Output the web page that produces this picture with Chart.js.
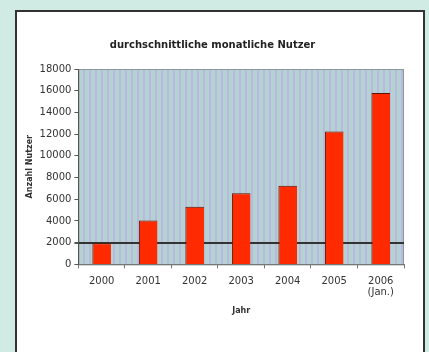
<!DOCTYPE html>
<html>
<head>
<meta charset="utf-8">
<script src="https://cdn.jsdelivr.net/npm/chart.js@4"></script>
<style>
  body { margin: 0; background: #cfebe4; width: 429px; height: 352px; overflow: hidden; }
  #panel { position: absolute; left: 15px; top: 10px; width: 406px; height: 360px; background: #fff; border: 2px solid #333; }
  #chart { position: absolute; left: 0; top: 0; }
</style>
</head>
<body>
<div id="panel"><canvas id="chart" width="406" height="308"></canvas></div>
<script>
const years = ["2000", "2001", "2002", "2003", "2004", "2005", ["2006", "(Jan.)"]];
const users = [1950, 4050, 5300, 6550, 7250, 12250, 15800];
const yTicks = [0, 2000, 4000, 6000, 8000, 10000, 12000, 14000, 16000, 18000];

// striped grey-blue plot background like the old Excel chart
const plotBackground = {
  id: "plotBackground",
  beforeDraw(chart) {
    const { ctx, chartArea: a } = chart;
    const p = document.createElement("canvas");
    p.width = 6; p.height = 1;
    const pc = p.getContext("2d");
    pc.fillStyle = "#b4d2d2"; pc.fillRect(0, 0, 6, 1);
    pc.fillStyle = "#bab8df"; pc.fillRect(0, 0, 2, 1);
    ctx.save();
    ctx.fillStyle = ctx.createPattern(p, "repeat");
    ctx.fillRect(a.left, a.top, a.right - a.left, a.bottom - a.top);
    ctx.strokeStyle = "#8a9a9a";
    ctx.lineWidth = 1;
    ctx.strokeRect(a.left + 0.5, a.top + 0.5, a.right - a.left - 1, a.bottom - a.top);
    ctx.restore();
  }
};

const font = "DejaVu Sans";

new Chart(document.getElementById("chart"), {
  type: "bar",
  data: {
    labels: years,
    datasets: [{
      data: users,
      backgroundColor: "#ff2a00",
      borderColor: "#5a1500",
      borderWidth: { top: 1, left: 1, right: 0, bottom: 0 },
      borderSkipped: false,
      barPercentage: 0.4,
      categoryPercentage: 1
    }]
  },
  options: {
    responsive: false,
    animation: false,
    layout: { padding: { left: 4, right: 19, top: 27, bottom: 0 } },
    plugins: {
      legend: { display: false },
      tooltip: { enabled: false },
      title: {
        display: true,
        text: "durchschnittliche monatliche Nutzer",
        color: "#222",
        font: { family: font, size: 10, weight: "bold" },
        padding: { top: 0, bottom: 18 }
      }
    },
    scales: {
      x: {
        grid: { drawOnChartArea: false, tickLength: 4, color: "#777" },
        border: { color: "#777" },
        ticks: { color: "#333", font: { family: font, size: 10, lineHeight: 1.1 }, maxRotation: 0, padding: 8 },
        title: { display: true, text: "Jahr", color: "#333", font: { family: font, size: 8, weight: "bold" }, padding: { top: 0 } }
      },
      y: {
        min: 0,
        max: 18000,
        afterBuildTicks: axis => { axis.ticks = yTicks.map(v => ({ value: v })); },
        grid: {
          color: c => c.tick && c.tick.value === 2000 ? "#333" : "transparent",
          lineWidth: c => c.tick && c.tick.value === 2000 ? 2 : 1,
          tickColor: "#555",
          tickLength: 4
        },
        border: { color: "#555" },
        ticks: { color: "#333", font: { family: font, size: 10 }, padding: 3, callback: v => String(v) },
        title: { display: true, text: "Anzahl Nutzer", color: "#333", font: { family: font, size: 8, weight: "bold" }, padding: { bottom: 2 } }
      }
    }
  },
  plugins: [plotBackground]
});
</script>
</body>
</html>
